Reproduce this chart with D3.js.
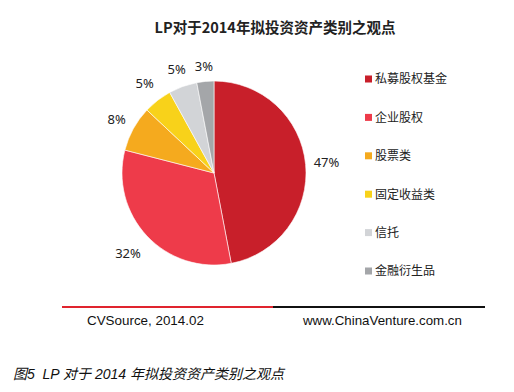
<!DOCTYPE html>
<html><head><meta charset="utf-8">
<script src="https://cdn.jsdelivr.net/npm/d3@7"></script>
<style>body{margin:0;background:#fff}svg{display:block}</style>
</head><body>
<svg id="c" width="514" height="392"></svg>
<script>
const categories = ["私募股权基金","企业股权","股票类","固定收益类","信托","金融衍生品"];
const values = [47, 32, 8, 5, 5, 3];
const labels = ["47%","32%","8%","5%","5%","3%"];
const colors = ["#C81F2A","#EE3B4A","#F5AA1E","#F8D21A","#D2D4D7","#A4A6A9"];
const title = "LP对于2014年拟投资资产类别之观点";
const sourceLeft = "CVSource, 2014.02";
const sourceRight = "www.ChinaVenture.com.cn";
const caption = "图5  LP 对于 2014 年拟投资资产类别之观点";

const svg = d3.select("#c");
const cx = 214, cy = 173, r = 92;
const cjk = "'Noto Sans CJK SC','Microsoft YaHei',sans-serif";

svg.append("text").attr("x", 275).attr("y", 33).attr("text-anchor","middle")
  .style("font-family", cjk).style("font-weight","bold").style("font-size","14.5px")
  .attr("fill","#222").text(title);

const pie = d3.pie().sort(null).value(d => d);
const arcs = pie(values);
const arc = d3.arc().innerRadius(0).outerRadius(r);
const g = svg.append("g").attr("transform", `translate(${cx},${cy})`);
g.selectAll("path").data(arcs).join("path")
  .attr("d", arc).attr("fill", (d,i) => colors[i])
  .attr("stroke","#fff").attr("stroke-width",0.6);

// label placement: radius per label
const labelR = [113, 118, 111, 113, 110, 107];
g.selectAll("text.lbl").data(arcs).join("text").attr("class","lbl")
  .attr("transform", (d,i) => {
    const a = (d.startAngle + d.endAngle)/2;
    const rr = labelR[i];
    return `translate(${Math.sin(a)*rr},${-Math.cos(a)*rr})`;
  })
  .attr("text-anchor","middle").attr("dy","0.36em")
  .style("font-family","'Noto Sans', 'DejaVu Sans', sans-serif").style("font-size","13px")
  .attr("fill","#222").text((d,i) => labels[i]);

const leg = svg.append("g");
const ly = d3.scalePoint().domain(categories).range([79, 271]);
leg.selectAll("rect").data(categories).join("rect")
  .attr("x", 365).attr("y", d => ly(d) - 3.5).attr("width", 7).attr("height", 7)
  .attr("fill", (d,i) => colors[i]);
leg.selectAll("text").data(categories).join("text")
  .attr("x", 375).attr("y", d => ly(d)).attr("dy","0.36em")
  .style("font-family", cjk).style("font-size","12px").attr("fill","#222")
  .text(d => d);

svg.append("line").attr("x1",62).attr("x2",273).attr("y1",307).attr("y2",307)
  .attr("stroke","#E0242E").attr("stroke-width",2);
svg.append("line").attr("x1",273).attr("x2",485).attr("y1",307).attr("y2",307)
  .attr("stroke","#111").attr("stroke-width",2);

svg.append("text").attr("x",87).attr("y",325)
  .style("font-family","'Liberation Sans',Arial,sans-serif").style("font-size","13.4px")
  .attr("fill","#111").text(sourceLeft);
svg.append("text").attr("x",303).attr("y",325)
  .style("font-family","'Liberation Sans',Arial,sans-serif").style("font-size","13.3px")
  .attr("fill","#111").text(sourceRight);

svg.append("text").attr("x",13).attr("y",379)
  .style("font-family", "'Liberation Sans'," + cjk).style("font-size","14px")
  .style("font-style","italic").attr("fill","#111")
  .attr("xml:space","preserve").style("white-space","pre").text(caption);
</script>
</body></html>
